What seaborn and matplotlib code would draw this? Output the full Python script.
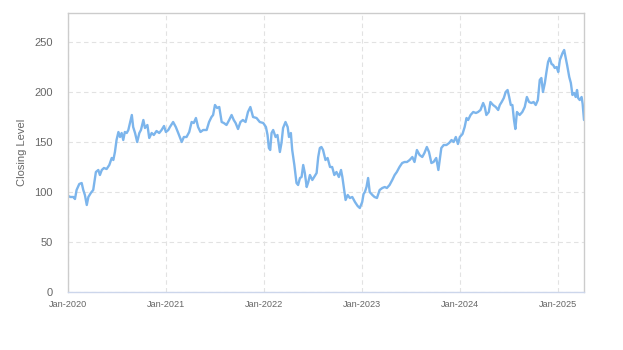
import matplotlib
matplotlib.use("Agg")
import matplotlib.pyplot as plt
import matplotlib.dates as mdates
import pandas as pd
import seaborn as sns

dates = [
    "2020-01-02", "2020-01-10", "2020-01-21", "2020-01-27", "2020-02-02", "2020-02-12", "2020-02-21",
    "2020-02-27", "2020-03-04", "2020-03-11", "2020-03-17", "2020-03-26", "2020-04-04", "2020-04-14",
    "2020-04-23", "2020-04-29", "2020-05-06", "2020-05-14", "2020-05-24", "2020-06-03", "2020-06-12",
    "2020-06-18", "2020-06-24", "2020-06-30", "2020-07-07", "2020-07-13", "2020-07-19", "2020-07-25",
    "2020-07-31", "2020-08-07", "2020-08-13", "2020-08-19", "2020-08-26", "2020-08-31", "2020-09-07",
    "2020-09-15", "2020-09-23", "2020-09-29", "2020-10-08", "2020-10-14", "2020-10-23", "2020-10-30",
    "2020-11-08", "2020-11-16", "2020-11-26", "2020-12-06", "2020-12-15", "2020-12-24", "2020-12-31",
    "2021-01-09", "2021-01-15", "2021-01-27", "2021-02-06", "2021-02-15", "2021-02-28", "2021-03-08",
    "2021-03-18", "2021-03-28", "2021-04-06", "2021-04-14", "2021-04-22", "2021-04-30", "2021-05-09",
    "2021-05-19", "2021-06-01", "2021-06-10", "2021-06-19", "2021-06-25", "2021-07-02", "2021-07-10",
    "2021-07-18", "2021-07-27", "2021-08-04", "2021-08-14", "2021-08-24", "2021-09-02", "2021-09-10",
    "2021-09-17", "2021-09-26", "2021-10-05", "2021-10-14", "2021-10-24", "2021-11-02", "2021-11-11",
    "2021-11-21", "2021-12-04", "2021-12-16", "2021-12-29", "2022-01-08", "2022-01-14", "2022-01-19",
    "2022-01-24", "2022-01-29", "2022-02-04", "2022-02-13", "2022-02-20", "2022-03-01", "2022-03-07",
    "2022-03-13", "2022-03-22", "2022-03-30", "2022-04-04", "2022-04-11", "2022-04-16", "2022-04-24",
    "2022-05-02", "2022-05-08", "2022-05-15", "2022-05-21", "2022-05-27", "2022-06-02", "2022-06-09",
    "2022-06-15", "2022-06-21", "2022-06-30", "2022-07-07", "2022-07-16", "2022-07-22", "2022-07-28",
    "2022-08-03", "2022-08-09", "2022-08-18", "2022-08-26", "2022-09-04", "2022-09-12", "2022-09-20",
    "2022-09-28", "2022-10-07", "2022-10-15", "2022-10-20", "2022-10-27", "2022-11-01", "2022-11-09",
    "2022-11-17", "2022-11-26", "2022-12-06", "2022-12-16", "2022-12-24", "2023-01-02", "2023-01-07",
    "2023-01-12", "2023-01-18", "2023-01-24", "2023-01-30", "2023-02-09", "2023-02-17", "2023-02-26",
    "2023-03-08", "2023-03-18", "2023-03-27", "2023-04-04", "2023-04-14", "2023-04-24", "2023-05-03",
    "2023-05-11", "2023-05-21", "2023-05-31", "2023-06-09", "2023-06-18", "2023-06-28", "2023-07-08",
    "2023-07-16", "2023-07-25", "2023-08-04", "2023-08-14", "2023-08-22", "2023-08-31", "2023-09-08",
    "2023-09-17", "2023-09-25", "2023-10-05", "2023-10-13", "2023-10-18", "2023-10-24", "2023-11-02",
    "2023-11-12", "2023-11-22", "2023-12-01", "2023-12-09", "2023-12-17", "2023-12-25", "2024-01-01",
    "2024-01-11", "2024-01-19", "2024-01-26", "2024-02-01", "2024-02-10", "2024-02-20", "2024-03-01",
    "2024-03-09", "2024-03-18", "2024-03-28", "2024-04-03", "2024-04-09", "2024-04-18", "2024-04-24",
    "2024-05-04", "2024-05-14", "2024-05-23", "2024-05-29", "2024-06-05", "2024-06-13", "2024-06-20",
    "2024-06-27", "2024-07-03", "2024-07-09", "2024-07-15", "2024-07-21", "2024-07-26", "2024-08-01",
    "2024-08-11", "2024-08-21", "2024-08-30", "2024-09-07", "2024-09-15", "2024-09-24", "2024-10-02",
    "2024-10-10", "2024-10-18", "2024-10-25", "2024-10-31", "2024-11-06", "2024-11-13", "2024-11-19",
    "2024-11-25", "2024-12-01", "2024-12-08", "2024-12-14", "2024-12-20", "2024-12-27", "2025-01-02",
    "2025-01-08", "2025-01-18", "2025-01-24", "2025-01-30", "2025-02-04", "2025-02-12", "2025-02-18",
    "2025-02-24", "2025-03-02", "2025-03-08", "2025-03-13", "2025-03-17", "2025-03-23", "2025-03-30",
    "2025-04-03", "2025-04-08",
]

closing = [
    96, 95, 95, 93, 102, 108, 109,
    102, 97, 87, 95, 99, 102, 120,
    122, 117, 122, 124, 123, 127, 134,
    132, 140, 152, 160, 155, 159, 152,
    160, 159, 162, 169, 177, 165, 159,
    150, 159, 162, 172, 164, 167, 154,
    159, 157, 161, 159, 162, 166, 160,
    162, 165, 170, 165, 159, 150, 155,
    155, 160, 170, 169, 174, 165, 160,
    162, 162, 170, 175, 177, 187, 184,
    185, 170, 169, 167, 172, 177, 172,
    169, 163, 170, 172, 170, 180, 185,
    175, 174, 170, 169, 165, 157, 144,
    142, 159, 162, 155, 157, 140, 149,
    164, 170, 165, 155, 159, 142, 127,
    109, 107, 114, 115, 127, 119, 105,
    110, 117, 112, 115, 119, 135, 144,
    145, 142, 132, 134, 125, 125, 117,
    120, 115, 122, 115, 102, 92, 97,
    94, 95, 90, 86, 84, 90, 98,
    100, 105, 114, 100, 97, 95, 94,
    102, 104, 105, 104, 107, 112, 117,
    120, 125, 129, 130, 130, 132, 135,
    130, 142, 137, 135, 139, 145, 140,
    129, 130, 134, 122, 132, 144, 147,
    147, 149, 152, 150, 155, 148, 155,
    158, 165, 174, 172, 177, 180, 179,
    180, 182, 189, 185, 177, 180, 190,
    187, 185, 182, 187, 190, 194, 200,
    202, 195, 187, 187, 172, 163, 180,
    177, 180, 185, 195, 190, 189, 190,
    187, 192, 212, 214, 200, 209, 220,
    230, 234, 228, 227, 224, 225, 220,
    232, 239, 242, 234, 227, 215, 209,
    197, 199, 195, 202, 194, 192, 195,
    188, 172,
]

year_ticks = ["2020-01-01", "2021-01-01", "2022-01-01", "2023-01-01", "2024-01-01", "2025-01-01"]
y_ticks = [0, 50, 100, 150, 200, 250]

df = pd.DataFrame({"Date": pd.to_datetime(dates), "Closing Level": closing})

sns.set_theme(style="white")
plt.rcParams["font.family"] = ["Liberation Sans", "DejaVu Sans"]

fig = plt.figure(figsize=(6.23, 3.5), dpi=100)
ax = fig.add_axes([68 / 623, 1 - 292 / 350, (584 - 68) / 623, (292 - 13) / 350])

sns.lineplot(data=df, x="Date", y="Closing Level", ax=ax, color="#7cb5ec", linewidth=1.7)

ax.set_xlim(df["Date"].min(), df["Date"].max())
ax.set_ylim(0, 279)
ax.set_yticks(y_ticks)
ax.set_xticks(pd.to_datetime(year_ticks))
ax.xaxis.set_major_formatter(mdates.DateFormatter("%b-%Y"))

ax.grid(True, color="#e2e2e2", linestyle=(0, (4, 3)), linewidth=0.8)
ax.set_axisbelow(True)

for side in ["top", "right", "left"]:
    ax.spines[side].set_color("#cccccc")
    ax.spines[side].set_linewidth(1.0)
ax.spines["bottom"].set_color("#ccd6eb")
ax.spines["bottom"].set_linewidth(1.0)

ax.tick_params(axis="y", length=0, pad=11, labelsize=8, labelcolor="#666666")
ax.tick_params(axis="x", length=0, pad=6, labelsize=6.6, labelcolor="#666666")

ax.set_xlabel("")
ax.set_ylabel("Closing Level", fontsize=8, color="#666666", labelpad=5)

fig.savefig("out.png", dpi=100)
